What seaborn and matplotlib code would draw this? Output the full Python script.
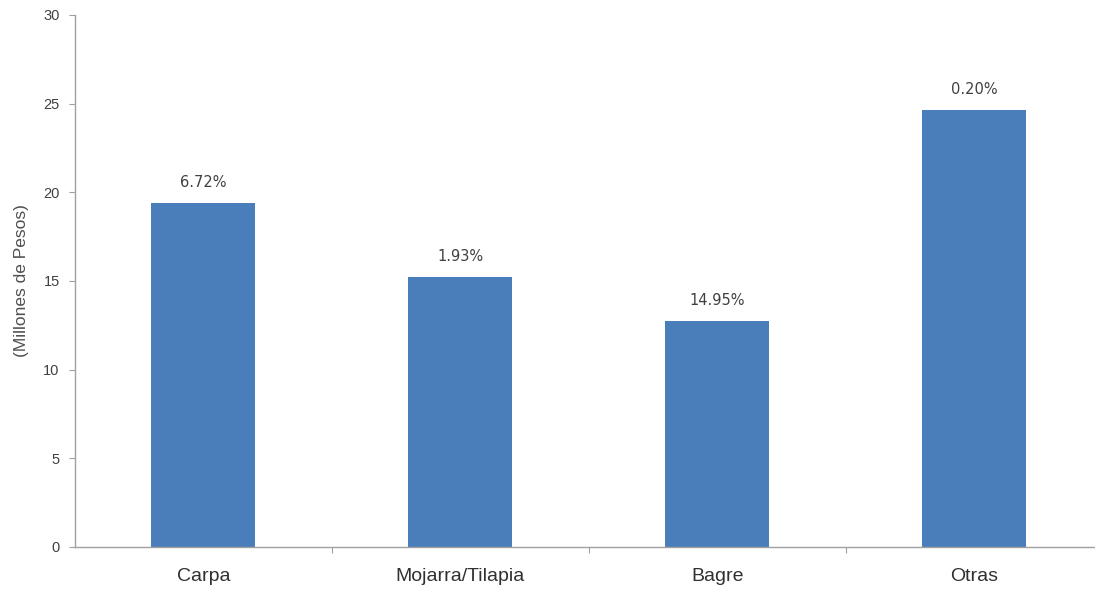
import matplotlib
matplotlib.use("Agg")
import matplotlib.pyplot as plt
import seaborn as sns
import pandas as pd

categories = ["Carpa", "Mojarra/Tilapia", "Bagre", "Otras"]
values = [19.4, 15.2, 12.75, 24.65]
pct_labels = ["6.72%", "1.93%", "14.95%", "0.20%"]
y_ticks = [0, 5, 10, 15, 20, 25, 30]

sns.set_theme(style="white")
plt.rcParams['font.family'] = ['Liberation Sans', 'DejaVu Sans']

df = pd.DataFrame({"cat": categories, "val": values})

fig = plt.figure(figsize=(10.95, 5.9), dpi=100)
ax = fig.add_axes([0.0685, 0.0729, 0.9315, 0.9017])
sns.barplot(data=df, x="cat", y="val", color="#4a7ebb", width=0.405,
            saturation=1, ax=ax, edgecolor="none")

ax.set_ylim(0, 30)
ax.set_xlim(-0.5, 3.47)
ax.set_yticks(y_ticks)
ax.set_yticklabels([str(t) for t in y_ticks], fontsize=10.5, color="#404040")
ax.set_xticks(range(len(categories)))
ax.set_xticklabels(categories, fontsize=14, color="#303030")
ax.tick_params(axis="x", length=0, pad=15)
ax.tick_params(axis="y", length=4, width=0.8, color="#a0a0a0", direction="out", pad=7, left=True)
# minor ticks between categories
ax.set_xticks([0.5, 1.5, 2.5], minor=True)
ax.tick_params(axis="x", which="minor", length=4, width=0.8, color="#a0a0a0", direction="out", bottom=True)

for s in ["top", "right"]:
    ax.spines[s].set_visible(False)
for s in ["left", "bottom"]:
    ax.spines[s].set_color("#a0a0a0")
    ax.spines[s].set_linewidth(1.0)

ax.set_xlabel("")
ax.set_ylabel("(Millones de Pesos)", fontsize=12.5, color="#505050", labelpad=10)

for i, (v, lab) in enumerate(zip(values, pct_labels)):
    ax.text(i, v + 0.75, lab, ha="center", va="bottom", fontsize=10.5,
            color="#404040", family="DejaVu Sans")

fig.savefig("out.png", dpi=100)
